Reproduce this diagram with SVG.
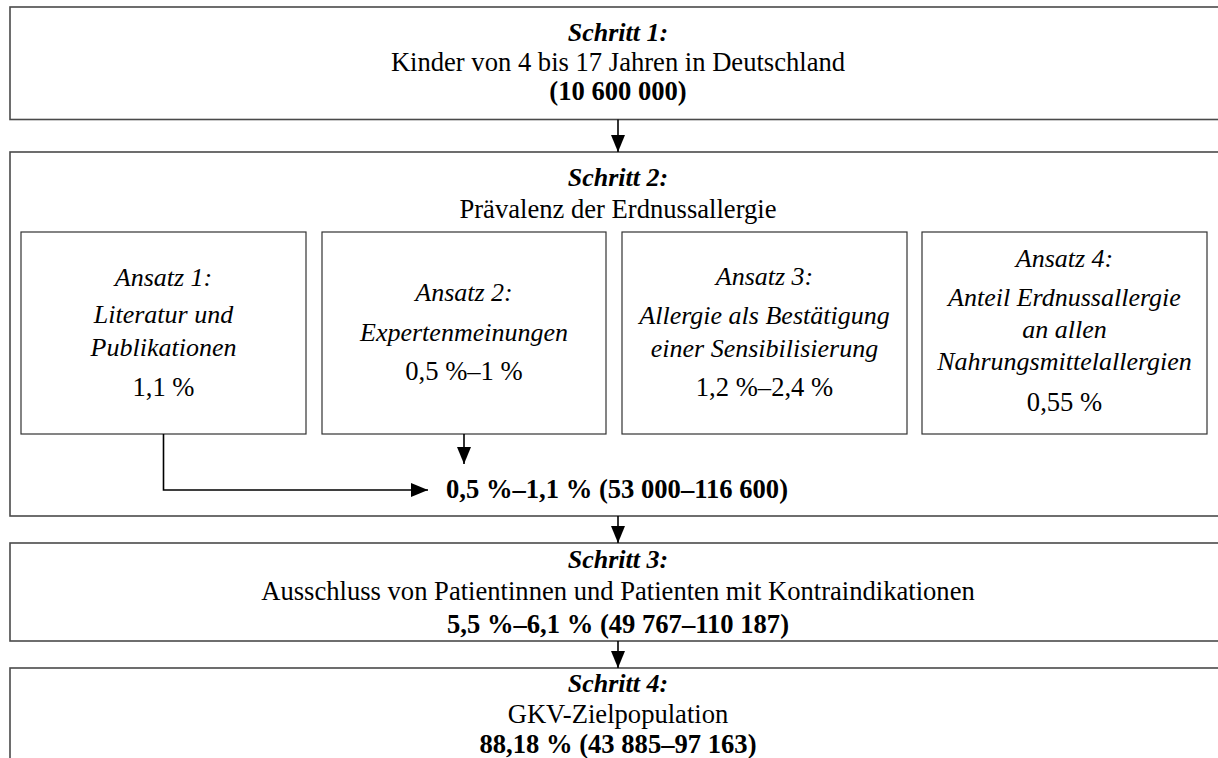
<svg xmlns="http://www.w3.org/2000/svg" width="1218" height="758" viewBox="0 0 1218 758">
<style>
text{font-family:"Liberation Serif","Times New Roman",serif;font-size:26.6px;fill:#000;text-anchor:middle}
.bi{font-weight:bold;font-style:italic;font-size:26px}
.b{font-weight:bold}
.i{font-style:italic;font-size:26px}
.outer{fill:#fff;stroke:#4a4a4a;stroke-width:1.6}
.inner{fill:#fff;stroke:#333;stroke-width:1.2}
.conn{fill:none;stroke:#000;stroke-width:1.6}
</style>
<defs>
<marker id="ah" markerUnits="userSpaceOnUse" markerWidth="18" markerHeight="14" refX="17" refY="7" orient="auto">
<path d="M0,0 L17,7 L0,14 Z" fill="#000"/>
</marker>
</defs>
<rect width="1218" height="758" fill="#fff"/>
<g id="step1">
<rect class="outer" x="10" y="7" width="1215" height="112.5"/>
<text x="618" y="41" class="bi">Schritt 1:</text>
<text x="618" y="71">Kinder von 4 bis 17 Jahren in Deutschland</text>
<text x="618" y="100" class="b">(10 600 000)</text>
</g>
<g id="step2">
<rect class="outer" x="10" y="152" width="1215" height="364"/>
<text x="618" y="186" class="bi">Schritt 2:</text>
<text x="618" y="218">Prävalenz der Erdnussallergie</text>
</g>
<g id="ansatz1">
<rect class="inner" x="21" y="232" width="285" height="202"/>
<text x="163.5" y="286" class="i">Ansatz 1:</text>
<text x="163.5" y="323" class="i">Literatur und</text>
<text x="163.5" y="356" class="i">Publikationen</text>
<text x="163.5" y="396">1,1 %</text>
</g>
<g id="ansatz2">
<rect class="inner" x="322" y="232" width="284" height="202"/>
<text x="464" y="301" class="i">Ansatz 2:</text>
<text x="464" y="341" class="i">Expertenmeinungen</text>
<text x="464" y="380">0,5 %–1 %</text>
</g>
<g id="ansatz3">
<rect class="inner" x="622" y="232" width="285" height="202"/>
<text x="764.5" y="285" class="i">Ansatz 3:</text>
<text x="764.5" y="324" class="i">Allergie als Bestätigung</text>
<text x="764.5" y="357" class="i">einer Sensibilisierung</text>
<text x="764.5" y="396">1,2 %–2,4 %</text>
</g>
<g id="ansatz4">
<rect class="inner" x="922" y="232" width="285" height="202"/>
<text x="1064.5" y="267" class="i">Ansatz 4:</text>
<text x="1064.5" y="306" class="i">Anteil Erdnussallergie</text>
<text x="1064.5" y="338" class="i">an allen</text>
<text x="1064.5" y="370" class="i">Nahrungsmittelallergien</text>
<text x="1064.5" y="411">0,55 %</text>
</g>
<g id="result2">
<text x="446" y="498" class="b" style="text-anchor:start">0,5 %–1,1 % (53 000–116 600)</text>
</g>
<g id="step3">
<rect class="outer" x="10" y="543" width="1215" height="98"/>
<text x="618" y="568" class="bi">Schritt 3:</text>
<text x="618" y="600">Ausschluss von Patientinnen und Patienten mit Kontraindikationen</text>
<text x="618" y="633" class="b">5,5 %–6,1 % (49 767–110 187)</text>
</g>
<g id="step4">
<rect class="outer" x="10" y="668" width="1215" height="100"/>
<text x="618" y="692" class="bi">Schritt 4:</text>
<text x="618" y="723">GKV-Zielpopulation</text>
<text x="618" y="753" class="b">88,18 % (43 885–97 163)</text>
</g>
<g id="connectors">
<line class="conn" x1="618" y1="119.5" x2="618" y2="152" marker-end="url(#ah)"/>
<polyline class="conn" points="163.5,434 163.5,490 428,490" marker-end="url(#ah)"/>
<line class="conn" x1="464" y1="434" x2="464" y2="464" marker-end="url(#ah)"/>
<line class="conn" x1="618" y1="516" x2="618" y2="543" marker-end="url(#ah)"/>
<line class="conn" x1="618" y1="641" x2="618" y2="668" marker-end="url(#ah)"/>
</g>
</svg>
